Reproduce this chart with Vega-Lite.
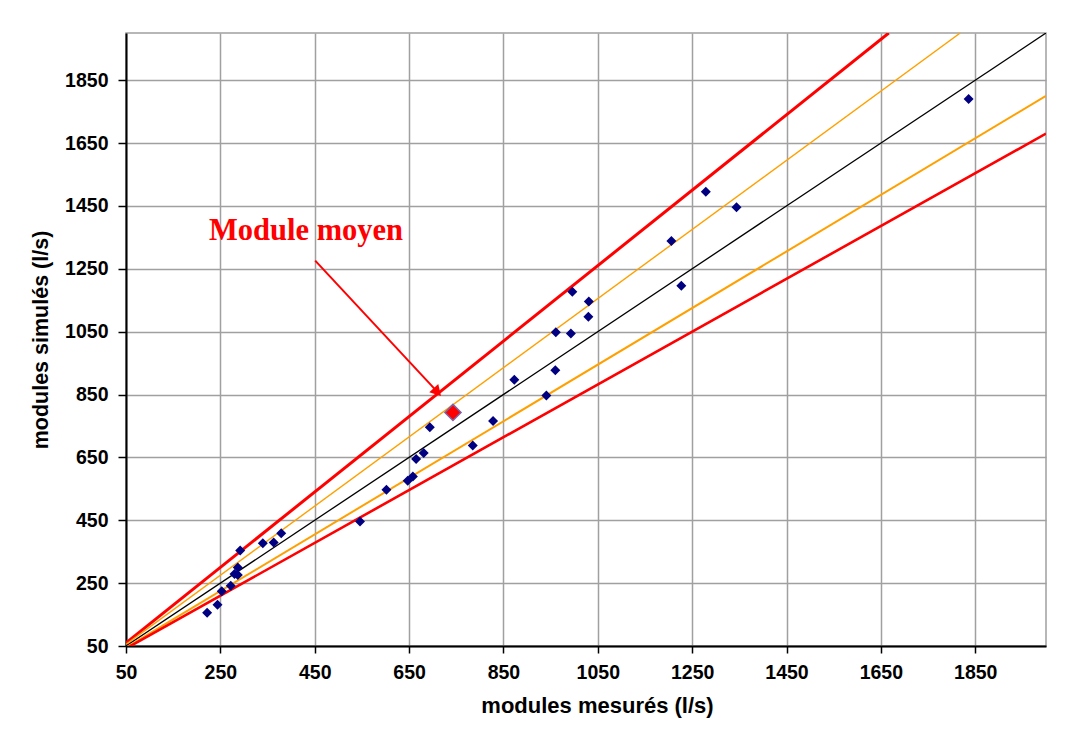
{
  "$schema": "https://vega.github.io/schema/vega-lite/v6.json",
  "width": 920,
  "height": 613,
  "autosize": {"type": "none"},
  "padding": {"left": 126, "top": 33, "right": 30, "bottom": 83},
  "background": "white",
  "config": {
    "font": "Liberation Sans",
    "view": {"stroke": "#a0a0a0", "strokeWidth": 1.5}
  },
  "datasets": {
    "mesures": [
      {"mesure": 222, "simule": 156},
      {"mesure": 244, "simule": 181},
      {"mesure": 253, "simule": 224},
      {"mesure": 272, "simule": 242},
      {"mesure": 280, "simule": 279},
      {"mesure": 287, "simule": 276},
      {"mesure": 287, "simule": 300},
      {"mesure": 292, "simule": 354},
      {"mesure": 340, "simule": 377},
      {"mesure": 363, "simule": 379},
      {"mesure": 379, "simule": 409},
      {"mesure": 546, "simule": 446},
      {"mesure": 602, "simule": 547},
      {"mesure": 647, "simule": 576},
      {"mesure": 658, "simule": 589},
      {"mesure": 665, "simule": 645},
      {"mesure": 681, "simule": 664},
      {"mesure": 694, "simule": 746},
      {"mesure": 785, "simule": 688},
      {"mesure": 828, "simule": 766},
      {"mesure": 873, "simule": 897},
      {"mesure": 941, "simule": 847},
      {"mesure": 960, "simule": 927},
      {"mesure": 961, "simule": 1048},
      {"mesure": 993, "simule": 1044},
      {"mesure": 996, "simule": 1177},
      {"mesure": 1031, "simule": 1146},
      {"mesure": 1030, "simule": 1097},
      {"mesure": 1206, "simule": 1338},
      {"mesure": 1227, "simule": 1196},
      {"mesure": 1279, "simule": 1495},
      {"mesure": 1344, "simule": 1446},
      {"mesure": 1836, "simule": 1790}
    ],
    "moyen": [{"mesure": 743, "simule": 793}],
    "droites": [
      {"serie": "+20 %", "mesure": 50, "simule": 60},
      {"serie": "+20 %", "mesure": 1666.7, "simule": 2000},
      {"serie": "+10 %", "mesure": 50, "simule": 55},
      {"serie": "+10 %", "mesure": 1818.2, "simule": 2000},
      {"serie": "1:1", "mesure": 50, "simule": 50},
      {"serie": "1:1", "mesure": 2000, "simule": 2000},
      {"serie": "-10 %", "mesure": 50, "simule": 45},
      {"serie": "-10 %", "mesure": 2000, "simule": 1800},
      {"serie": "-16 %", "mesure": 50, "simule": 42},
      {"serie": "-16 %", "mesure": 2000, "simule": 1680}
    ],
    "fleche": [
      {"mesure": 451, "simule": 1276},
      {"mesure": 712, "simule": 855}
    ],
    "pointe": [{"mesure": 710, "simule": 858}],
    "etiquette": [{"mesure": 226, "simule": 1343, "texte": "Module moyen"}]
  },
  "encoding": {
    "x": {
      "field": "mesure",
      "type": "quantitative",
      "scale": {"domain": [50, 2000], "nice": false, "zero": false},
      "axis": {
        "title": "modules mesurés (l/s)",
        "values": [50, 250, 450, 650, 850, 1050, 1250, 1450, 1650, 1850],
        "format": "d",
        "grid": true,
        "gridColor": "#a0a0a0",
        "gridWidth": 1.5,
        "domainColor": "black",
        "domainWidth": 2,
        "tickColor": "black",
        "tickWidth": 1.5,
        "tickSize": 7,
        "labelFont": "Liberation Sans",
        "labelFontSize": 19.5,
        "labelFontWeight": "bold",
        "labelColor": "black",
        "labelPadding": 10,
        "labelFlush": false,
        "titleFont": "Liberation Sans",
        "titleFontSize": 22,
        "titleFontWeight": "bold",
        "titleColor": "black",
        "titlePadding": 14,
        "titleX": 471
      }
    },
    "y": {
      "field": "simule",
      "type": "quantitative",
      "scale": {"domain": [50, 2000], "nice": false, "zero": false},
      "axis": {
        "title": "modules simulés (l/s)",
        "values": [50, 250, 450, 650, 850, 1050, 1250, 1450, 1650, 1850],
        "format": "d",
        "grid": true,
        "gridColor": "#a0a0a0",
        "gridWidth": 1.5,
        "domainColor": "black",
        "domainWidth": 2,
        "tickColor": "black",
        "tickWidth": 1.5,
        "tickSize": 8,
        "labelFont": "Liberation Sans",
        "labelFontSize": 19.5,
        "labelFontWeight": "bold",
        "labelColor": "black",
        "labelPadding": 10,
        "labelFlush": false,
        "titleFont": "Liberation Sans",
        "titleFontSize": 21.5,
        "titleFontWeight": "bold",
        "titleColor": "black",
        "titlePadding": 12
      }
    }
  },
  "layer": [
    {
      "data": {"name": "droites"},
      "transform": [{"filter": "datum.serie === '+20 %'"}],
      "mark": {"type": "line", "clip": true, "color": "#ff0000", "strokeWidth": 3},
      "encoding": {}
    },
    {
      "data": {"name": "droites"},
      "transform": [{"filter": "datum.serie === '+10 %'"}],
      "mark": {"type": "line", "clip": true, "color": "#ffa000", "strokeWidth": 1.4},
      "encoding": {}
    },
    {
      "data": {"name": "droites"},
      "transform": [{"filter": "datum.serie === '1:1'"}],
      "mark": {"type": "line", "clip": true, "color": "#000000", "strokeWidth": 1.3},
      "encoding": {}
    },
    {
      "data": {"name": "droites"},
      "transform": [{"filter": "datum.serie === '-10 %'"}],
      "mark": {"type": "line", "clip": true, "color": "#ffa000", "strokeWidth": 2},
      "encoding": {}
    },
    {
      "data": {"name": "droites"},
      "transform": [{"filter": "datum.serie === '-16 %'"}],
      "mark": {"type": "line", "clip": true, "color": "#ff0000", "strokeWidth": 2.6},
      "encoding": {}
    },
    {
      "data": {"name": "mesures"},
      "mark": {"type": "point", "shape": "diamond", "filled": true, "size": 100, "color": "#000080", "opacity": 1}
    },
    {
      "data": {"name": "moyen"},
      "mark": {"type": "point", "shape": "diamond", "filled": true, "size": 260, "fill": "#ff0000", "stroke": "#7a64a8", "strokeWidth": 1.5, "opacity": 1}
    },
    {
      "data": {"name": "fleche"},
      "mark": {"type": "line", "color": "#ff0000", "strokeWidth": 2},
      "encoding": {}
    },
    {
      "data": {"name": "pointe"},
      "mark": {"type": "point", "shape": "triangle-up", "filled": true, "size": 150, "color": "#ff0000", "opacity": 1, "angle": 137}
    },
    {
      "data": {"name": "etiquette"},
      "mark": {"type": "text", "align": "left", "baseline": "alphabetic", "font": "Liberation Serif", "fontSize": 30.5, "fontWeight": "bold", "color": "#ff0000"},
      "encoding": {"text": {"field": "texte"}}
    }
  ]
}
